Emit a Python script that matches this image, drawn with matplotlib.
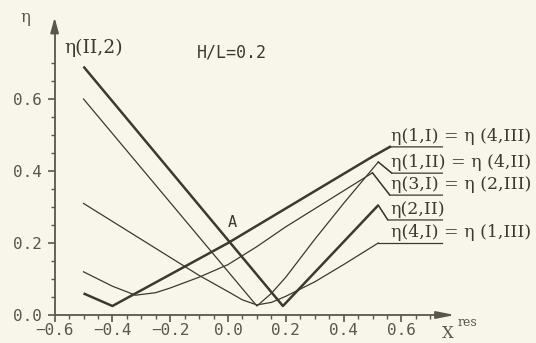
import numpy as np
import matplotlib.pyplot as plt
from matplotlib.ticker import FixedLocator

# curve data
x_a = [-0.5, 0.19, 0.52]
y_a = [0.69, 0.025, 0.305]

x_b = [-0.5, 0.1, 0.15, 0.2, 0.3, 0.4, 0.52]
y_b = [0.6, 0.025, 0.06, 0.105, 0.21, 0.31, 0.425]

x_c = [-0.5, -0.4, -0.3, -0.2, -0.1, 0.0, 0.05, 0.1, 0.15, 0.2, 0.3, 0.4, 0.52]
y_c = [0.31, 0.26, 0.21, 0.16, 0.11, 0.065, 0.042, 0.028, 0.035, 0.052, 0.092, 0.14, 0.2]

x_d = [-0.5, -0.4, -0.32, -0.25, -0.2, -0.1, 0.0, 0.1, 0.2, 0.3, 0.4, 0.5]
y_d = [0.12, 0.08, 0.055, 0.062, 0.075, 0.105, 0.14, 0.19, 0.245, 0.295, 0.345, 0.395]

x_e = [-0.5, -0.4, 0.0, 0.5]
y_e = [0.06, 0.025, 0.2, 0.44]

x_ticks = [-0.6, -0.4, -0.2, 0.0, 0.2, 0.4, 0.6]
y_ticks = [0.0, 0.2, 0.4, 0.6]

labels_left = ['η(1,I)', 'η(1,II)', 'η(3,I)', 'η(2,II)', 'η(4,I)']
labels_right = [' = η (4,III)', ' = η (4,II)', ' = η (2,III)', '', ' = η (1,III)']

bg = '#f8f6ea'
ink = '#3d3830'
grey = '#5a564e'

fig = plt.figure(figsize=(5.36, 3.43), dpi=100)
fig.patch.set_facecolor(bg)
ax = fig.add_axes([0, 0, 1, 1])
ax.set_facecolor(bg)
ax.set_xlim(-228 / 289, 308 / 289)
ax.set_ylim(-28 / 360, 315 / 360)

# curves
thick, thin = 1.8, 0.9
ax.plot(x_a, y_a, color=ink, lw=thick, solid_capstyle='butt')
ax.plot(x_b, y_b, color=ink, lw=thin)
ax.plot(x_c, y_c, color=ink, lw=thin)
ax.plot(x_d, y_d, color=ink, lw=thin)
ax.plot(x_e, y_e, color=ink, lw=thick, solid_capstyle='butt')

# leaders from curve ends to the underlined labels
ends = [(x_e[-1], y_e[-1]), (x_b[-1], y_b[-1]), (x_d[-1], y_d[-1]),
        (x_a[-1], y_a[-1]), (x_c[-1], y_c[-1])]
under_y = [0.467, 0.394, 0.333, 0.264, 0.2]
under_x0 = [0.56, 0.567, 0.56, 0.553, 0.52]
lead_w = [thick, thin, thin, thin, thin]
for (ex, ey), uy, ux, lw, l1, l2 in zip(ends, under_y, under_x0, lead_w,
                                        labels_left, labels_right):
    ax.plot([ex, ux, 0.742], [ey, uy, uy], color=ink, lw=thin)
    ax.plot([ex, ux], [ey, uy], color=ink, lw=lw)
    ax.text(0.563, uy + 0.006, l1 + l2, fontsize=12.5, color=ink,
            family='DejaVu Serif', va='bottom', ha='left')

# axes
for s in ['top', 'right']:
    ax.spines[s].set_visible(False)
ax.spines['left'].set_position(('data', -0.6))
ax.spines['bottom'].set_position(('data', 0.0))
ax.spines['left'].set_bounds(0.0, 0.8)
ax.spines['bottom'].set_bounds(-0.6, 0.75)
for s in ['left', 'bottom']:
    ax.spines[s].set_color(grey)
    ax.spines[s].set_linewidth(1.3)

ax.xaxis.set_major_locator(FixedLocator(x_ticks))
ax.yaxis.set_major_locator(FixedLocator(y_ticks))
ax.xaxis.set_minor_locator(FixedLocator(np.arange(-0.55, 0.71, 0.05)))
ax.yaxis.set_minor_locator(FixedLocator(np.arange(0.05, 0.71, 0.05)))
ax.set_xticklabels(['−0.6', '−0.4', '−0.2', '0.0', '0.2', '0.4', '0.6'])
ax.set_yticklabels(['0.0', '0.2', '0.4', '0.6'])
ax.tick_params(which='major', direction='out', length=5, width=1.2, color=grey,
               labelsize=11.5, labelcolor=grey)
ax.tick_params(axis='x', which='major', pad=1)
ax.tick_params(axis='y', which='major', pad=4)
ax.tick_params(which='minor', direction='out', length=3, width=1.0, color=grey)
for lab in ax.get_xticklabels() + ax.get_yticklabels():
    lab.set_family('DejaVu Sans Mono')

# arrow heads
ax.annotate('', xy=(-0.6, 0.826), xytext=(-0.6, 0.78),
            arrowprops=dict(arrowstyle='-|>,head_length=0.9,head_width=0.25',
                            color=grey, lw=1.3, shrinkA=0, shrinkB=0))
ax.annotate('', xy=(0.785, 0.0), xytext=(0.72, 0.0),
            arrowprops=dict(arrowstyle='-|>,head_length=1.1,head_width=0.22',
                            color=grey, lw=1.3, shrinkA=0, shrinkB=0))

# texts
ax.text(-0.70, 0.826, 'η', fontsize=12, color=grey, family='DejaVu Serif',
        ha='center', va='center')
ax.text(-0.565, 0.742, 'η(II,2)', fontsize=13.5, color=ink, family='DejaVu Serif',
        ha='left', va='center')
ax.text(-0.107, 0.728, 'H/L=0.2', fontsize=12, color=ink, family='DejaVu Sans Mono',
        ha='left', va='center')
ax.text(0.015, 0.256, 'A', fontsize=11, color=ink, family='DejaVu Sans Mono',
        ha='center', va='center')
ax.text(0.76, -0.05, 'X', fontsize=12, color=grey, family='DejaVu Serif',
        ha='center', va='center')
ax.text(0.83, -0.02, 'res', fontsize=9, color=grey, family='DejaVu Serif',
        ha='center', va='center')

fig.savefig('out.png', dpi=100, facecolor=bg)
